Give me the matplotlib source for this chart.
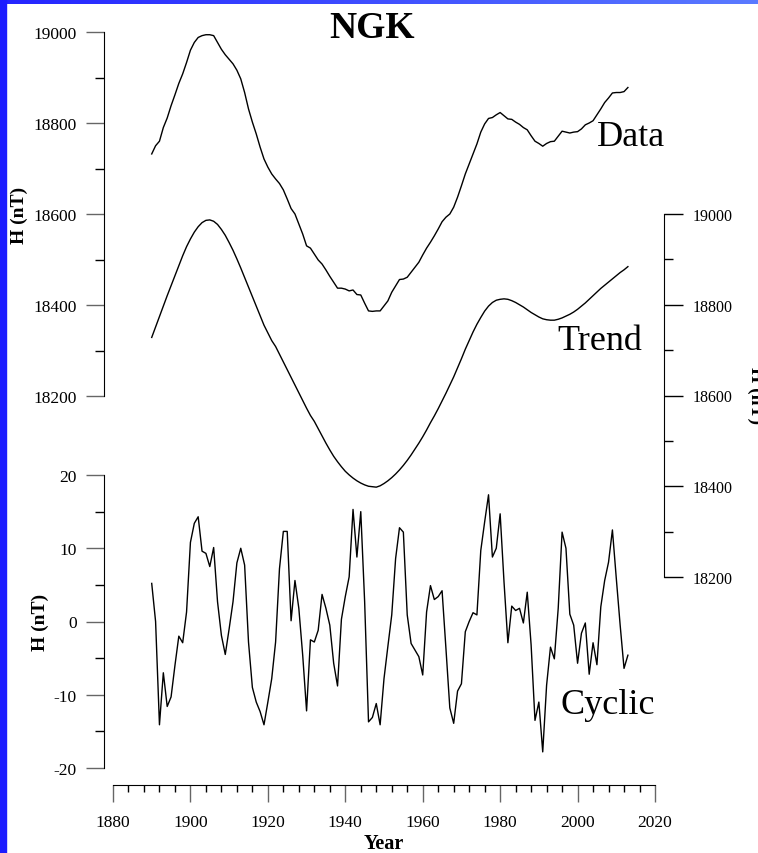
import numpy as np
import matplotlib
matplotlib.use('Agg')
import matplotlib.pyplot as plt
from matplotlib.ticker import MultipleLocator
from matplotlib.patches import Rectangle
from matplotlib.colors import LinearSegmentedColormap

# 字型設定 (Times 類字型)
plt.rcParams['font.family'] = ['Liberation Serif', 'DejaVu Serif']
plt.rcParams['axes.unicode_minus'] = False   # 負號用 "-"

W, H = 758, 854

# 年份
years = np.arange(1890, 2014)

# 觀測資料 H (nT)
data_h = [
    18732, 18750, 18760, 18790, 18811, 18838, 18862, 18887, 18908, 18933,  # 1890
    18960, 18977, 18988, 18992, 18994, 18994, 18992, 18977, 18962, 18950,  # 1900
    18940, 18930, 18916, 18897, 18867, 18831, 18802, 18776, 18747, 18721,  # 1910
    18703, 18688, 18677, 18667, 18653, 18633, 18612, 18600, 18578, 18556,  # 1920
    18530, 18525, 18512, 18499, 18490, 18477, 18463, 18450, 18437, 18437,  # 1930
    18435, 18431, 18433, 18423, 18422, 18404, 18387, 18386, 18387, 18387,  # 1940
    18398, 18409, 18428, 18442, 18456, 18457, 18461, 18472, 18483, 18494,  # 1950
    18510, 18525, 18538, 18552, 18567, 18583, 18593, 18600, 18615, 18637,  # 1960
    18662, 18688, 18710, 18732, 18754, 18780, 18798, 18810, 18812, 18818,  # 1970
    18823, 18816, 18809, 18808, 18802, 18797, 18790, 18785, 18772, 18760,  # 1980
    18755, 18749, 18755, 18759, 18760, 18771, 18782, 18780, 18778, 18780,  # 1990
    18781, 18787, 18796, 18800, 18805, 18818, 18831, 18845, 18855, 18866,  # 2000
    18867, 18867, 18869, 18878,                                            # 2010
]

# 長期趨勢 H (nT)
trend_h = [
    18728, 18751, 18774, 18797, 18820, 18842, 18864, 18886, 18908, 18928,  # 1890
    18945, 18960, 18972, 18981, 18986, 18987, 18984, 18977, 18966, 18953,  # 1900
    18937, 18920, 18901, 18881, 18860, 18839, 18818, 18797, 18776, 18755,  # 1910
    18738, 18721, 18708, 18691, 18674, 18657, 18640, 18623, 18606, 18589,  # 1920
    18572, 18556, 18543, 18527, 18511, 18495, 18480, 18466, 18454, 18443,  # 1930
    18433, 18425, 18418, 18412, 18407, 18403, 18400, 18399, 18398, 18401,  # 1940
    18406, 18412, 18419, 18427, 18436, 18446, 18457, 18469, 18482, 18495,  # 1950
    18509, 18524, 18540, 18555, 18571, 18588, 18605, 18623, 18641, 18661,  # 1960
    18681, 18702, 18721, 18740, 18757, 18772, 18786, 18797, 18805, 18810,  # 1970
    18812, 18813, 18812, 18809, 18805, 18800, 18795, 18789, 18783, 18778,  # 1980
    18773, 18769, 18767, 18766, 18766, 18768, 18771, 18775, 18779, 18784,  # 1990
    18790, 18797, 18804, 18812, 18820, 18828, 18836, 18843, 18850, 18857,  # 2000
    18864, 18871, 18877, 18884,                                            # 2010
]

# 週期成分 H (nT)
cyclic_h = [
    5.2, 0.0, -14.1, -7.0, -11.6, -10.3, -6.0, -2.0, -2.9, 1.3,        # 1890
    10.8, 13.4, 14.3, 9.6, 9.3, 7.5, 10.1, 2.7, -1.9, -4.5,             # 1900
    -1.0, 2.7, 8.0, 10.0, 7.7, -2.8, -9.0, -11.0, -12.3, -14.1,         # 1910
    -11.0, -7.8, -2.8, 7.2, 12.3, 12.3, 0.1, 5.6, 1.8, -4.6,            # 1920
    -12.2, -2.5, -2.8, -1.2, 3.7, 1.8, -0.5, -5.7, -8.8, 0.3,           # 1930
    3.4, 6.1, 15.3, 8.8, 15.0, 2.7, -13.7, -13.1, -11.2, -14.1,         # 1940
    -7.8, -3.4, 0.9, 8.6, 12.8, 12.2, 0.9, -3.0, -3.9, -4.8,            # 1950
    -7.3, 1.3, 4.9, 3.0, 3.4, 4.2, -3.7, -11.8, -13.9, -9.5,            # 1960
    -8.5, -1.4, 0.0, 1.2, 0.9, 9.7, 13.6, 17.3, 8.8, 10.0,              # 1970
    14.7, 5.4, -2.9, 2.1, 1.5, 1.8, -0.2, 4.0, -3.2, -13.5,             # 1980
    -11.0, -17.8, -8.7, -3.5, -5.1, 1.8, 12.2, 10.0, 1.0, -0.5,         # 1990
    -5.7, -1.6, -0.2, -7.2, -2.9, -5.9, 2.0, 5.6, 8.1, 12.5,            # 2000
    5.9, -0.5, -6.4, -4.6,                                              # 2010
]


def px_box(x0, y0, x1, y1):
    # 像素座標 -> figure 比例
    return [x0 / W, 1 - y1 / H, (x1 - x0) / W, (y1 - y0) / H]


def px_xy(x, y):
    return x / W, 1 - y / H


fig = plt.figure(figsize=(W / 100, H / 100), dpi=100)

major_kw = dict(which='major', length=13, width=1.0, color='#666666')
minor_kw = dict(which='minor', length=6.5, width=1.0, color='black')

# 上方: Data
ax_data = fig.add_axes(px_box(113, 33, 655, 397))
ax_data.patch.set_alpha(0)
ax_data.plot(years, data_h, color='black', lw=1.0)
ax_data.set_xlim(1880, 2020)
ax_data.set_ylim(18200, 19000)
for s in ['top', 'right', 'bottom']:
    ax_data.spines[s].set_visible(False)
ax_data.spines['left'].set_position(('outward', 6.5))
ax_data.yaxis.set_major_locator(MultipleLocator(200))
ax_data.yaxis.set_minor_locator(MultipleLocator(100))
ax_data.tick_params(axis='y', **major_kw, labelsize=12.5, pad=6.5)
ax_data.tick_params(axis='y', **minor_kw)
ax_data.set_xticks([])

# 右側: Trend
ax_trend = fig.add_axes(px_box(113, 215, 655, 578))
ax_trend.patch.set_alpha(0)
ax_trend.plot(years, trend_h, color='black', lw=1.0)
ax_trend.set_xlim(1880, 2020)
ax_trend.set_ylim(18200, 19000)
for s in ['top', 'left', 'bottom']:
    ax_trend.spines[s].set_visible(False)
ax_trend.spines['right'].set_position(('outward', 6.5))
ax_trend.yaxis.tick_right()
ax_trend.yaxis.set_major_locator(MultipleLocator(200))
ax_trend.yaxis.set_minor_locator(MultipleLocator(100))
ax_trend.tick_params(axis='y', which='major', length=13.5, width=1.0,
                     color='black', labelsize=11.5, pad=7)
ax_trend.tick_params(axis='y', **minor_kw)
ax_trend.set_xticks([])

# 下方: Cyclic
ax_cyc = fig.add_axes(px_box(113, 476, 655, 769))
ax_cyc.patch.set_alpha(0)
ax_cyc.plot(years, cyclic_h, color='black', lw=1.0)
ax_cyc.set_xlim(1880, 2020)
ax_cyc.set_ylim(-20, 20)
for s in ['top', 'right']:
    ax_cyc.spines[s].set_visible(False)
ax_cyc.spines['left'].set_position(('outward', 6.5))
ax_cyc.spines['bottom'].set_position(('outward', 12.2))
ax_cyc.yaxis.set_major_locator(MultipleLocator(10))
ax_cyc.yaxis.set_minor_locator(MultipleLocator(5))
ax_cyc.xaxis.set_major_locator(MultipleLocator(20))
ax_cyc.xaxis.set_minor_locator(MultipleLocator(4))
ax_cyc.tick_params(axis='y', **major_kw, labelsize=12.5, pad=6.5)
ax_cyc.tick_params(axis='y', **minor_kw)
ax_cyc.tick_params(axis='x', which='major', length=12.2, width=1.0,
                   color='#666666', labelsize=12.5, pad=9)
ax_cyc.tick_params(axis='x', which='minor', length=5, width=1.0, color='black')

# 文字
fig.text(*px_xy(372, 28), 'NGK', fontsize=27, fontweight='bold',
         ha='center', va='center')
fig.text(*px_xy(597, 146), 'Data', fontsize=26, ha='left', va='baseline')
fig.text(*px_xy(557, 350), 'Trend', fontsize=26, ha='left', va='baseline')
fig.text(*px_xy(560, 714), 'Cyclic', fontsize=26, ha='left', va='baseline')
fig.text(*px_xy(19, 215), 'H (nT)', fontsize=14, fontweight='bold',
         rotation=90, ha='center', va='center')
fig.text(*px_xy(40, 622), 'H (nT)', fontsize=14, fontweight='bold',
         rotation=90, ha='center', va='center')
# 右側標籤: 原圖被邊界裁切
fig.text(*px_xy(756, 396), 'H (nT)', fontsize=14, fontweight='bold',
         rotation=-90, ha='center', va='center')
fig.text(*px_xy(384, 844), 'Year', fontsize=14.5, fontweight='bold',
         ha='center', va='center')

# 藍色邊框
fig.add_artist(Rectangle((0, 0), 6 / W, 1, transform=fig.transFigure,
                         color='#1c1cff', zorder=5))
ax_bar = fig.add_axes([0, 1 - 5 / H, 1, 5 / H])
grad = np.linspace(0, 1, 256).reshape(1, -1)
cmap = LinearSegmentedColormap.from_list('bar', ['#2424ff', '#5a7aff'])
ax_bar.imshow(grad, aspect='auto', cmap=cmap)
ax_bar.axis('off')

fig.savefig('out.png', dpi=100)
